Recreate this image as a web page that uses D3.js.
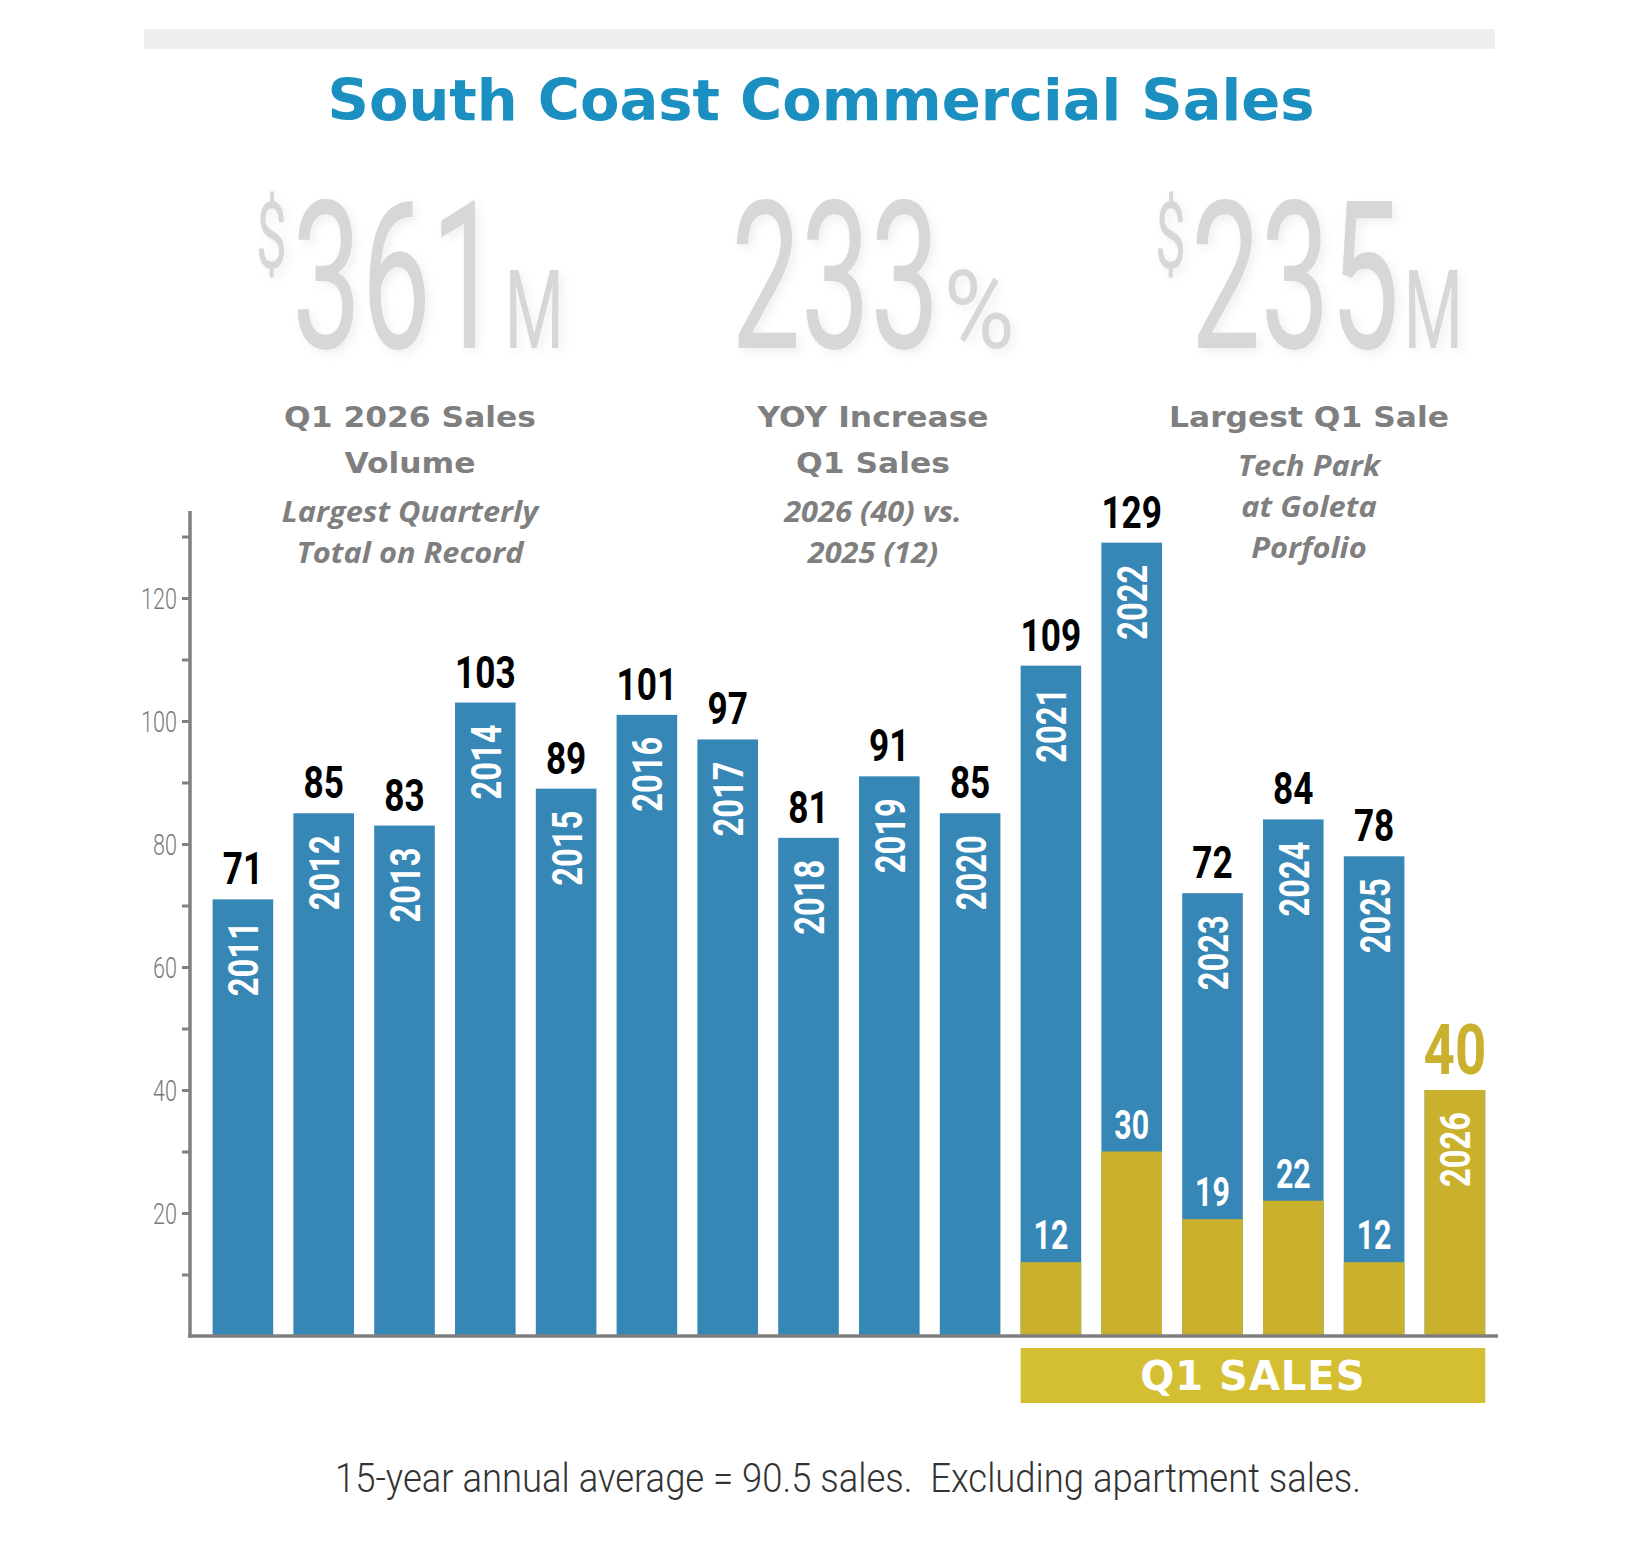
<!DOCTYPE html>
<html>
<head>
<meta charset="utf-8">
<script src="https://d3js.org/d3.v7.min.js"></script>
<style>
  body { margin: 0; background: #fff; }
</style>
</head>
<body>
<div id="chart"></div>
<script>
// ---- data ----
var years = ["2011","2012","2013","2014","2015","2016","2017","2018","2019","2020","2021","2022","2023","2024","2025","2026"];
var totalSales = [71, 85, 83, 103, 89, 101, 97, 81, 91, 85, 109, 129, 72, 84, 78, 40];
var q1Sales = [null, null, null, null, null, null, null, null, null, null, 12, 30, 19, 22, 12, 40];
var yTickValues = [10, 20, 30, 40, 50, 60, 70, 80, 90, 100, 110, 120, 130];
var yTickLabels = [20, 40, 60, 80, 100, 120];

var titleText = "South Coast Commercial Sales";
var statPrefix = ["$", "", "$"];
var statValues = ["361", "233", "235"];
var statSuffix = ["M", "%", "M"];
var statHeads = [["Q1 2026 Sales", "Volume"], ["YOY Increase", "Q1 Sales"], ["Largest Q1 Sale"]];
var statNotes = [["Largest Quarterly", "Total on Record"], ["2026 (40) vs.", "2025 (12)"], ["Tech Park", "at Goleta", "Porfolio"]];
var q1BoxLabel = "Q1 SALES";
var footerText = "15-year annual average = 90.5 sales.  Excluding apartment sales.";

// ---- setup ----
var blue = "#3686b6", gold = "#c9b12d", gray = "#808080";

var svg = d3.select("#chart").append("svg")
  .attr("width", 1633)
  .attr("height", 1567);

var defs = svg.append("defs");
defs.append("filter").attr("id", "soft")
  .attr("x", "-10%").attr("y", "-10%").attr("width", "130%").attr("height", "130%")
  .append("feDropShadow")
  .attr("dx", 4).attr("dy", 4).attr("stdDeviation", 5)
  .attr("flood-color", "#000").attr("flood-opacity", 0.06);

// grey rule on top
svg.append("rect")
  .attr("x", 144).attr("y", 29)
  .attr("width", 1351).attr("height", 20)
  .attr("fill", "#eef0ef");

// title
svg.append("text")
  .attr("x", 821).attr("y", 120)
  .attr("text-anchor", "middle")
  .attr("font-family", "DejaVu Sans")
  .attr("font-weight", "bold")
  .attr("font-size", 57)
  .attr("fill", "#1a8fc0")
  .attr("textLength", 987)
  .attr("lengthAdjust", "spacingAndGlyphs")
  .text(titleText);

// ---- big stats ----
var statX = [410, 873, 1309];

statValues.forEach(function(v, i) {
  var g = svg.append("g").attr("filter", "url(#soft)");
  var pieces = [
    {t: statPrefix[i], size: 92, base: 268, sx: 0.6, gap: 5},
    {t: v, size: 206, base: 348, sx: 0.6, gap: 4},
    {t: statSuffix[i], size: 110, base: 348, sx: statSuffix[i] === "%" ? 0.88 : 0.62, gap: 0}
  ];
  var cursor = 0;
  pieces.forEach(function(p) {
    if (!p.t) return;
    var t = g.append("text")
      .attr("font-family", "Roboto")
      .attr("font-size", p.size)
      .attr("fill", "#d7d7d7")
      .text(p.t);
    var w = t.node().getComputedTextLength() * p.sx;
    t.attr("transform", "translate(" + cursor + "," + p.base + ") scale(" + p.sx + ",1)");
    cursor += w + p.gap;
  });
  g.attr("transform", "translate(" + (statX[i] - cursor / 2) + ",0)");

  var heads = statHeads[i];
  heads.forEach(function(h, j) {
    svg.append("text")
      .attr("text-anchor", "middle")
      .attr("font-family", "DejaVu Sans")
      .attr("font-weight", "bold")
      .attr("font-size", 28)
      .attr("fill", "#7f7f7f")
      .attr("transform", "translate(" + statX[i] + "," + (427 + j * 46) + ") scale(1.12,1)")
      .text(h);
  });
  var noteStart = 427 + (heads.length - 1) * 46 + 49;
  statNotes[i].forEach(function(n, j) {
    svg.append("text")
      .attr("text-anchor", "middle")
      .attr("font-family", "Open Sans")
      .attr("font-weight", "bold")
      .attr("font-style", "italic")
      .attr("font-size", 28)
      .attr("fill", "#7f7f7f")
      .attr("transform", "translate(" + statX[i] + "," + (noteStart + j * 41) + ") scale(1.1,1)")
      .text(n);
  });
});

// ---- scales ----
var x = d3.scaleBand()
  .domain(years)
  .range([202.5, 1495.3])
  .paddingInner(0.25)
  .paddingOuter(0.125);

var y = d3.scaleLinear()
  .domain([0, 120])
  .range([1336, 598]);

var bw = x.bandwidth();

// ---- bars ----
var rows = years.map(function(yr, i) {
  return {year: yr, total: totalSales[i], q1: q1Sales[i]};
});

svg.append("g").selectAll("rect")
  .data(rows)
  .enter().append("rect")
  .attr("x", function(d) { return x(d.year); })
  .attr("y", function(d) { return y(d.total); })
  .attr("width", bw)
  .attr("height", function(d) { return y(0) - y(d.total); })
  .attr("fill", blue);

var q1Rows = rows.filter(function(d) { return d.q1 != null; });

svg.append("g").selectAll("rect")
  .data(q1Rows)
  .enter().append("rect")
  .attr("x", function(d) { return x(d.year); })
  .attr("y", function(d) { return y(d.q1); })
  .attr("width", bw)
  .attr("height", function(d) { return y(0) - y(d.q1); })
  .attr("fill", gold);

// total labels above bars
svg.append("g").selectAll("text")
  .data(rows)
  .enter().append("text")
  .attr("text-anchor", "middle")
  .attr("font-family", "Roboto")
  .attr("font-weight", "bold")
  .attr("font-size", function(d) { return d.q1 === d.total ? 70 : 44; })
  .attr("fill", function(d) { return d.q1 === d.total ? gold : "#000"; })
  .attr("transform", function(d) {
    var off = d.q1 === d.total ? 16 : 15;
    var sx = d.q1 === d.total ? 0.78 : 0.8;
    return "translate(" + (x(d.year) + bw / 2) + "," + (y(d.total) - off) + ") scale(" + sx + ",1)";
  })
  .text(function(d) { return d.total; });

// year labels inside bars
svg.append("g").selectAll("text")
  .data(rows)
  .enter().append("text")
  .attr("text-anchor", "end")
  .attr("dy", "0.36em")
  .attr("font-family", "Roboto")
  .attr("font-weight", "bold")
  .attr("font-size", 43)
  .attr("fill", "#fff")
  .attr("transform", function(d) {
    return "translate(" + (x(d.year) + bw / 2) + "," + (y(d.total) + 22) + ") rotate(-90) scale(0.76,1)";
  })
  .text(function(d) { return d.year; });

// Q1 value labels
svg.append("g").selectAll("text")
  .data(q1Rows.filter(function(d) { return d.q1 !== d.total; }))
  .enter().append("text")
  .attr("text-anchor", "middle")
  .attr("font-family", "Roboto")
  .attr("font-weight", "bold")
  .attr("font-size", 41)
  .attr("fill", "#fff")
  .attr("transform", function(d) {
    return "translate(" + (x(d.year) + bw / 2) + "," + (y(d.q1) - 13) + ") scale(0.74,1)";
  })
  .text(function(d) { return d.q1; });

// ---- axes ----
var yAxis = d3.axisLeft(y)
  .tickValues(yTickValues)
  .tickSize(8)
  .tickFormat(function(d) { return yTickLabels.indexOf(d) >= 0 ? d : ""; });

var ga = svg.append("g")
  .attr("transform", "translate(190,0)")
  .call(yAxis);
ga.select(".domain").remove();
ga.selectAll(".tick line").attr("stroke", gray).attr("stroke-width", 3);
ga.selectAll(".tick text")
  .attr("x", null)
  .attr("dy", "0.36em")
  .attr("fill", "#7a7a7a")
  .attr("font-family", "Roboto")
  .attr("font-weight", 300)
  .attr("font-size", 30)
  .attr("transform", "translate(-13,0) scale(0.72,1)");

svg.append("line")
  .attr("x1", 190).attr("x2", 190)
  .attr("y1", 511).attr("y2", y(0) + 1.5)
  .attr("stroke", gray).attr("stroke-width", 3.5);

svg.append("line")
  .attr("x1", 188).attr("x2", 1498)
  .attr("y1", y(0)).attr("y2", y(0))
  .attr("stroke", gray).attr("stroke-width", 3.5);

// ---- Q1 sales banner ----
var bx0 = x(q1Rows[0].year);
var bx1 = x(q1Rows[q1Rows.length - 1].year) + bw;
svg.append("rect")
  .attr("x", bx0).attr("y", 1348)
  .attr("width", bx1 - bx0).attr("height", 55)
  .attr("fill", "#d4bf33");
svg.append("text")
  .attr("x", (bx0 + bx1) / 2).attr("y", 1390)
  .attr("text-anchor", "middle")
  .attr("font-family", "DejaVu Sans")
  .attr("font-weight", "bold")
  .attr("font-size", 40)
  .attr("letter-spacing", 1)
  .attr("fill", "#fff")
  .text(q1BoxLabel);

// ---- footer ----
svg.append("text")
  .attr("x", 335).attr("y", 1492)
  .attr("font-family", "Roboto")
  .attr("font-weight", 300)
  .attr("font-size", 40)
  .attr("fill", "#333")
  .style("white-space", "pre")
  .attr("textLength", 1026)
  .attr("lengthAdjust", "spacingAndGlyphs")
  .text(footerText);
</script>
</body>
</html>
